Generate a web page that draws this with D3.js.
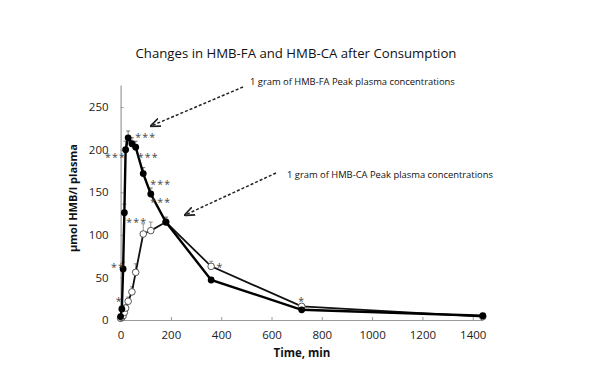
<!DOCTYPE html>
<html><head><meta charset="utf-8">
<script src="https://cdn.jsdelivr.net/npm/d3@7"></script>
<style>html,body{margin:0;padding:0;background:#fff;}</style>
</head><body>
<svg id="c" width="589" height="376"></svg>
<script>
const times = [0, 5, 10, 15, 20, 30, 45, 60, 90, 120, 180, 360, 720, 1440];
const faValues = [4, 13, 60, 126, 200, 214, 207, 203, 172, 148, 115, 47, 12, 5];
const faErrors = [1, 3, 8, 10, 10, 8, 7, 7, 7, 7, 5, 3, 2, 1];
const caValues = [2, 3, 5, 9, 14, 22, 33, 56, 101, 105, 115, 63, 16, 4];
const caErrors = [1, 1, 2, 3, 4, 5, 6, 10, 12, 10, 6, 6, 3, 1];
const xTicks = [0, 200, 400, 600, 800, 1000, 1200, 1400];
const yTicks = [0, 50, 100, 150, 200, 250];
const stars = [
  {t: -5, v: 23, s: "*"},
  {t: -10, v: 63, s: "**"},
  {t: -20, v: 193, s: "***"},
  {t: 100, v: 216, s: "***"},
  {t: 110, v: 193, s: "***"},
  {t: 160, v: 161, s: "***"},
  {t: 160, v: 140, s: "***"},
  {t: 64, v: 116, s: "***"},
  {t: 395, v: 63, s: "*"},
  {t: 720, v: 24, s: "*"}
];
const titleText = "Changes in HMB-FA and HMB-CA after Consumption";
const note1 = "1 gram of HMB-FA Peak plasma concentrations";
const note2 = "1 gram of HMB-CA Peak plasma concentrations";

const svg = d3.select("#c");
const font = "'Open Sans', 'DejaVu Sans', sans-serif";
const x = d3.scaleLinear().domain([0, 1440]).range([120.6, 482.8]);
const y = d3.scaleLinear().domain([0, 276]).range([320, 85]);

// axes
const gx = svg.append("g").attr("transform", "translate(0,320)")
  .call(d3.axisBottom(x).tickValues(xTicks).tickFormat(d3.format("d")).tickSizeInner(-3).tickSizeOuter(0).tickPadding(11));
const gy = svg.append("g").attr("transform", "translate(120.6,0)")
  .call(d3.axisLeft(y).tickValues(yTicks).tickFormat(d3.format("d")).tickSizeInner(-3).tickSizeOuter(0).tickPadding(12));
[gx, gy].forEach(g => {
  g.select(".domain").attr("stroke", "#9a9a9a").attr("stroke-width", 1.2);
  g.selectAll(".tick line").attr("stroke", "#9a9a9a");
  g.selectAll(".tick text").attr("font-family", font).attr("font-size", 11.5).attr("fill", "#222");
});

// error bars
function errBars(vals, errs, color) {
  const g = svg.append("g").attr("stroke", color).attr("stroke-width", 0.8);
  times.forEach((t, i) => {
    const x0 = x(t), y1 = y(vals[i] + errs[i]), y0 = y(vals[i]);
    g.append("line").attr("x1", x0).attr("x2", x0).attr("y1", y0).attr("y2", y1);
    g.append("line").attr("x1", x0 - 2).attr("x2", x0 + 2).attr("y1", y1).attr("y2", y1);
  });
}
errBars(caValues, caErrors, "#777");
errBars(faValues, faErrors, "#555");

const line = d3.line().x(d => x(d[0])).y(d => y(d[1]));
const caData = times.map((t, i) => [t, caValues[i]]);
const faData = times.map((t, i) => [t, faValues[i]]);

svg.append("path").datum(caData).attr("d", line).attr("fill", "none")
  .attr("stroke", "#111").attr("stroke-width", 1.8);
svg.append("g").selectAll("circle").data(caData).join("circle")
  .attr("cx", d => x(d[0])).attr("cy", d => y(d[1])).attr("r", 3.3)
  .attr("fill", "#fff").attr("stroke", "#555").attr("stroke-width", 1);

svg.append("path").datum(faData).attr("d", line).attr("fill", "none")
  .attr("stroke", "#000").attr("stroke-width", 2.4);
svg.append("g").selectAll("circle").data(faData).join("circle")
  .attr("cx", d => x(d[0])).attr("cy", d => y(d[1])).attr("r", 3.4)
  .attr("fill", "#000");

// asterisks
svg.append("g").selectAll("text").data(stars).join("text")
  .attr("x", d => x(d.t)).attr("y", d => y(d.v) + 5)
  .attr("text-anchor", "middle")
  .attr("font-family", font).attr("font-size", 10.5).attr("fill", "#444")
  .attr("letter-spacing", 1.2)
  .text(d => d.s);

// title
svg.append("text").attr("x", 296).attr("y", 58).attr("text-anchor", "middle")
  .attr("font-family", font).attr("font-size", 13.2).attr("fill", "#111").text(titleText);

// annotations
svg.append("defs").append("marker").attr("id", "ah").attr("viewBox", "0 0 10 10")
  .attr("refX", 9).attr("refY", 5).attr("markerWidth", 7).attr("markerHeight", 7)
  .attr("orient", "auto").append("path").attr("d", "M0,1 L10,5 L0,9").attr("fill", "none")
  .attr("stroke", "#222").attr("stroke-width", 1.6);
svg.append("line").attr("x1", 243).attr("y1", 87).attr("x2", 151).attr("y2", 126)
  .attr("stroke", "#222").attr("stroke-width", 1.5).attr("stroke-dasharray", "3,2").attr("marker-end", "url(#ah)");
svg.append("line").attr("x1", 276).attr("y1", 173).attr("x2", 185).attr("y2", 215)
  .attr("stroke", "#222").attr("stroke-width", 1.5).attr("stroke-dasharray", "3,2").attr("marker-end", "url(#ah)");
svg.append("text").attr("x", 250).attr("y", 85).attr("font-family", font).attr("font-size", 9.4)
  .attr("fill", "#111").text(note1);
svg.append("text").attr("x", 287).attr("y", 178).attr("font-family", font).attr("font-size", 9.4)
  .attr("fill", "#111").text(note2);

// axis labels
svg.append("text").attr("x", 302).attr("y", 357).attr("text-anchor", "middle")
  .attr("font-family", font).attr("font-size", 11.5).attr("font-weight", "bold").attr("fill", "#111").text("Time, min");
svg.append("text").attr("transform", "translate(77,198) rotate(-90)").attr("text-anchor", "middle")
  .attr("font-family", font).attr("font-size", 11).attr("font-weight", "bold").attr("fill", "#111").text("µmol  HMB/l plasma");
</script>
</body></html>
